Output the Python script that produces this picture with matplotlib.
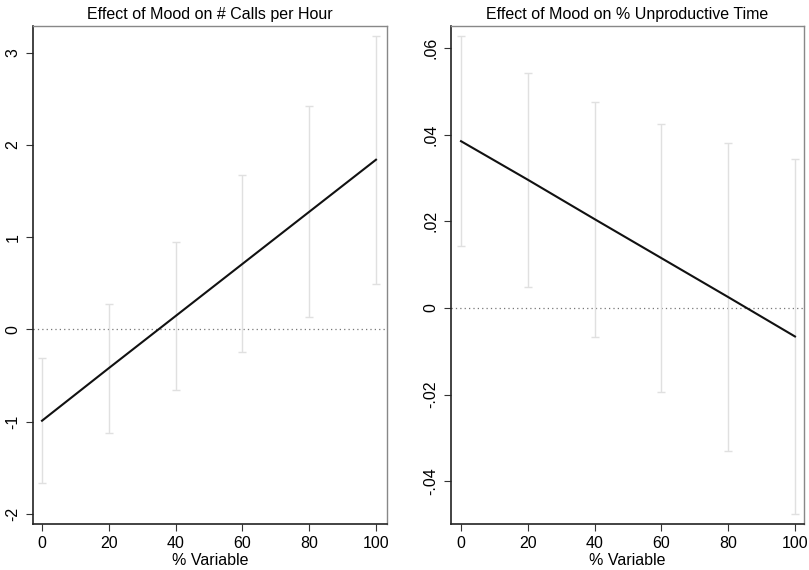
import matplotlib
matplotlib.use("Agg")
import matplotlib.pyplot as plt
import numpy as np

plt.rcParams['font.family'] = ['Liberation Sans', 'DejaVu Sans']

x_vals = [0, 20, 40, 60, 80, 100]

# Left panel: Effect of Mood on # Calls per Hour
calls_est = [-0.99, -0.42, 0.145, 0.71, 1.275, 1.84]
calls_hi = [-0.315, 0.28, 0.95, 1.67, 2.42, 3.18]
calls_lo = [-1.66, -1.12, -0.66, -0.25, 0.13, 0.49]

# Right panel: Effect of Mood on % Unproductive Time
unp_est = [0.0385, 0.0296, 0.0205, 0.0115, 0.0025, -0.0066]
unp_hi = [0.0628, 0.0543, 0.0476, 0.0425, 0.0381, 0.0344]
unp_lo = [0.0143, 0.0049, -0.0067, -0.0194, -0.0330, -0.0476]

left_yticks = [-2, -1, 0, 1, 2, 3]
left_ylabels = ['-2', '-1', '0', '1', '2', '3']
right_yticks = [-0.04, -0.02, 0, 0.02, 0.04, 0.06]
right_ylabels = ['-.04', '-.02', '0', '.02', '.04', '.06']
xticks = [0, 20, 40, 60, 80, 100]

titles = ['Effect of Mood on # Calls per Hour', 'Effect of Mood on % Unproductive Time']
xlabel = '% Variable'

fig = plt.figure(figsize=(8.09, 5.70), dpi=100)
ax1 = fig.add_axes([33/809, 1-524/570, 354/809, 498/570])
ax2 = fig.add_axes([451/809, 1-524/570, 353/809, 498/570])

panels = [
    (ax1, calls_est, calls_lo, calls_hi, left_yticks, left_ylabels, (-2.11, 3.29), (-2.7, 103.3)),
    (ax2, unp_est, unp_lo, unp_hi, right_yticks, right_ylabels, (-0.0499, 0.0651), (-3.0, 102.7)),
]

for i, (ax, est, lo, hi, yt, yl, ylim, xlim) in enumerate(panels):
    est = np.array(est); lo = np.array(lo); hi = np.array(hi)
    ax.axhline(0, color='#777777', linestyle=(0, (1, 2.5)), linewidth=0.9, zorder=1)
    ax.errorbar(x_vals, est, yerr=[est - lo, hi - est], fmt='none',
                ecolor='#e0e0e0', elinewidth=1.0, capsize=3, capthick=1.0, zorder=2)
    ax.plot(x_vals, est, color='#111111', linewidth=1.5, zorder=3)
    ax.set_xlim(*xlim)
    ax.set_ylim(*ylim)
    ax.set_xticks(xticks)
    ax.set_xticklabels([str(t) for t in xticks], fontsize=11.5)
    ax.set_yticks(yt)
    ax.set_yticklabels(yl, fontsize=11.5, rotation=90, va='center')
    ax.tick_params(axis='both', direction='out', length=5, width=0.8, color='#333333', pad=4)
    ax.set_title(titles[i], fontsize=11.5, pad=5)
    ax.set_xlabel(xlabel, fontsize=11.5, labelpad=1)
    for side in ['left', 'bottom']:
        ax.spines[side].set_color('#222222')
        ax.spines[side].set_linewidth(1.2)
    for side in ['top', 'right']:
        ax.spines[side].set_color('#888888')
        ax.spines[side].set_linewidth(1.0)

fig.savefig('out.png', dpi=100)
